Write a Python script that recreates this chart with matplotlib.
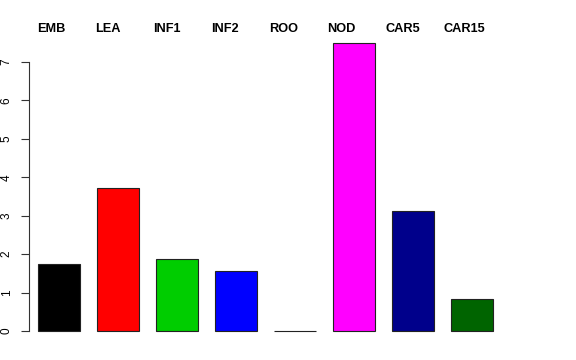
import numpy as np
import matplotlib.pyplot as plt

groups = ["EMB", "LEA", "INF1", "INF2", "ROO", "NOD", "CAR5", "CAR15"]
values = [1.74, 3.72, 1.87, 1.56, 0.0, 7.49, 3.12, 0.83]
colors = ["black", "red", "#00CD00", "blue", "black", "magenta", "#00008B", "#006400"]

fig = plt.figure(figsize=(5.76, 3.6), dpi=100)
ax = fig.add_axes([29 / 576, 17.5 / 360, 490 / 576, 310.9 / 360])

bar_w = 0.85
x = 0.2 + 1.2 * np.arange(len(groups)) + bar_w / 2
ax.bar(x, values, width=bar_w, color=colors, edgecolor="#222222", linewidth=0.8)

ax.set_xlim(0.016, 9.976)
ax.set_ylim(-0.3, 7.79)

for s in ["top", "right", "bottom"]:
    ax.spines[s].set_visible(False)
ax.spines["left"].set_bounds(0, 7)
ax.spines["left"].set_color("#333333")
ax.set_xticks([])
ax.set_yticks(range(8))
ax.set_yticklabels([str(i) for i in range(8)], rotation=90, va="center",
                   fontsize=8.5, family="Liberation Sans")
ax.tick_params(axis="y", length=5.8, width=0.8, pad=6, color="#333333")

# group names along the top
for i, g in enumerate(groups):
    ax.text(0.19 + 1.178 * i, 1.008, g, transform=ax.get_xaxis_transform(),
            ha="left", va="center", fontsize=9.2, fontweight="bold",
            family="Liberation Sans")

fig.savefig("out.png", dpi=100)
